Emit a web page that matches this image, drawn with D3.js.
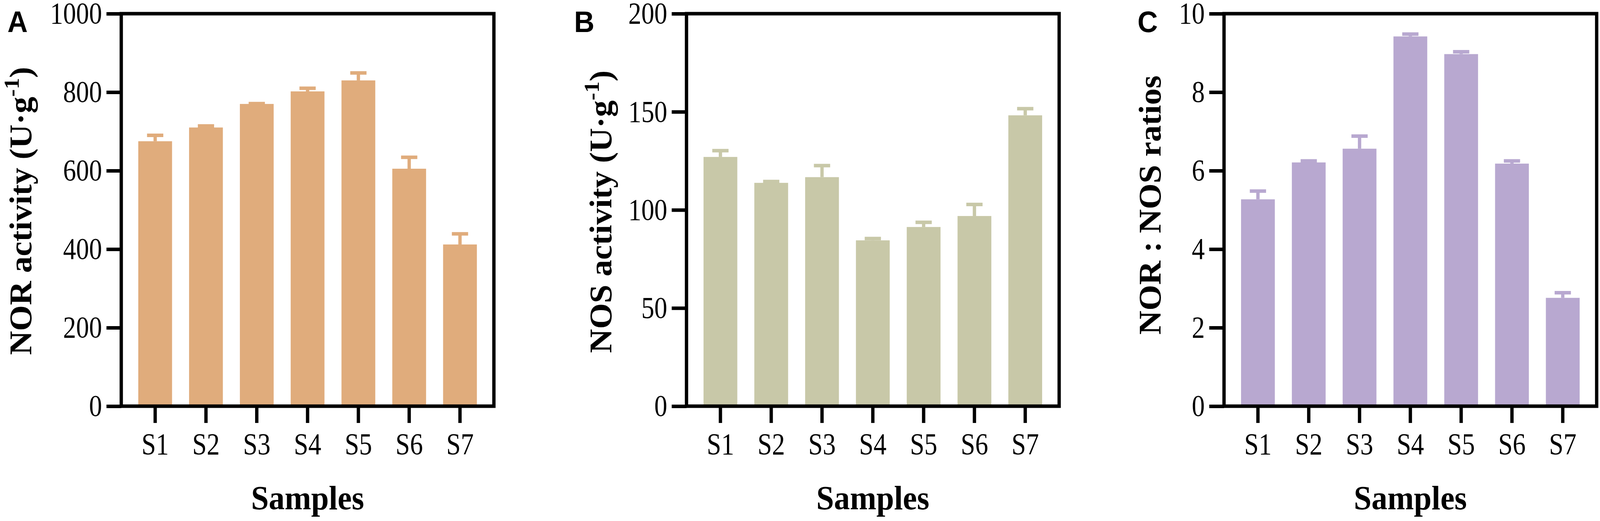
<!DOCTYPE html>
<html>
<head>
<meta charset="utf-8">
<script src="https://cdn.jsdelivr.net/npm/d3@7"></script>
<style>
  html, body { margin: 0; padding: 0; background: #fff; overflow: hidden; }
  svg { display: block; width: 100vw; height: 100vh; }
</style>
</head>
<body>
<script>

var samples = ["S1", "S2", "S3", "S4", "S5", "S6", "S7"];

// panel A : NOR activity
var norMean = [675, 710, 770, 802, 830, 605, 412];
var norErr  = [15, 4, 1, 8, 19, 29, 27];
var norTicks = [0, 200, 400, 600, 800, 1000];

// panel B : NOS activity
var nosMean = [127.0, 113.8, 116.7, 84.5, 91.3, 96.9, 148.2];
var nosErr  = [3.2, 0.7, 5.9, 0.9, 2.4, 5.9, 3.4];
var nosTicks = [0, 50, 100, 150, 200];

// panel C : NOR : NOS ratio
var ratioMean = [5.27, 6.21, 6.56, 9.42, 8.97, 6.18, 2.76];
var ratioErr  = [0.21, 0.04, 0.32, 0.06, 0.06, 0.07, 0.13];
var ratioTicks = [0, 2, 4, 6, 8, 10];

var serif = "'Liberation Serif', 'Times New Roman', serif";
var sans = "'Liberation Sans', Arial, sans-serif";
var squeeze = 0.9;

// drawn in a 4328x1334 frame, stretched to whatever the window gives
var canvas = d3.select("body")
    .append("svg")
    .attr("viewBox", "0 0 4328 1334")
    .attr("preserveAspectRatio", "none");

var panels = [
    { letter: "A", left: 328, letterX: 20, titleX: 85, titleY: 540,
      title: "NOR activity (U·g", sup: true,
      mean: norMean, err: norErr, ticks: norTicks, max: 1000, color: "#E0AC7C" },
    { letter: "B", left: 1857, letterX: 1553, titleX: 1654, titleY: 542,
      title: "NOS activity (U·g", sup: true,
      mean: nosMean, err: nosErr, ticks: nosTicks, max: 200, color: "#C8C8A8" },
    { letter: "C", left: 3311, letterX: 3077, titleX: 3139, titleY: 525,
      title: "NOR : NOS ratios", sup: false,
      mean: ratioMean, err: ratioErr, ticks: ratioTicks, max: 10, color: "#B8A8D0" }
];

var plotTop = 35, W = 1008, H = 1005;

panels.forEach(function (p) {
    var g = canvas.append("g")
        .attr("transform", "translate(" + p.left + "," + plotTop + ")");

    var x = d3.scaleBand().domain(samples).range([0, W]).padding(0.335);
    var y = d3.scaleLinear().domain([0, p.max]).range([H, 0]);

    var data = samples.map(function (s, i) {
        return { name: s, mean: p.mean[i], err: p.err[i] };
    });

    g.selectAll("rect.bar")
        .data(data)
        .enter()
        .append("rect")
        .attr("class", "bar")
        .attr("x", function (d) { return x(d.name); })
        .attr("width", x.bandwidth())
        .attr("y", function (d) { return y(d.mean); })
        .attr("height", function (d) { return H - y(d.mean); })
        .attr("fill", p.color);

    // error bars (upper only)
    var cx = function (d) { return x(d.name) + x.bandwidth() / 2; };
    g.selectAll("line.stem")
        .data(data)
        .enter()
        .append("line")
        .attr("x1", cx).attr("x2", cx)
        .attr("y1", function (d) { return y(d.mean); })
        .attr("y2", function (d) { return y(d.mean + d.err); })
        .attr("stroke", p.color)
        .attr("stroke-width", 9);
    g.selectAll("line.cap")
        .data(data)
        .enter()
        .append("line")
        .attr("x1", function (d) { return cx(d) - 22; })
        .attr("x2", function (d) { return cx(d) + 22; })
        .attr("y1", function (d) { return y(d.mean + d.err); })
        .attr("y2", function (d) { return y(d.mean + d.err); })
        .attr("stroke", p.color)
        .attr("stroke-width", 9);

    // axes
    var yAxis = g.append("g")
        .call(d3.axisLeft(y).tickValues(p.ticks).tickFormat(d3.format("d"))
            .tickSize(40).tickPadding(12));
    var xAxis = g.append("g")
        .attr("transform", "translate(0," + H + ")")
        .call(d3.axisBottom(x).tickSize(43).tickPadding(25));

    [yAxis, xAxis].forEach(function (ax) {
        ax.select(".domain").remove();
        ax.selectAll("line").attr("stroke", "#000").attr("stroke-width", 9);
        ax.selectAll("text")
            .attr("font-family", serif)
            .attr("font-size", 78)
            .attr("fill", "#000")
            .attr("transform", "scale(" + squeeze + ",1)");
    });
    yAxis.selectAll("text").attr("x", -52 / squeeze);

    // frame
    g.append("rect")
        .attr("x", 0).attr("y", 0)
        .attr("width", W).attr("height", H)
        .attr("fill", "none")
        .attr("stroke", "#000")
        .attr("stroke-width", 9);

    // x title
    canvas.append("text")
        .attr("x", p.left + W / 2).attr("y", 1304)
        .attr("text-anchor", "middle")
        .attr("font-family", serif)
        .attr("font-weight", "bold")
        .attr("font-size", 86)
        .text("Samples");

    // y title
    var t = canvas.append("text")
        .attr("transform", "translate(" + p.titleX + "," + p.titleY + ") rotate(-90)")
        .attr("text-anchor", "middle")
        .attr("font-family", serif)
        .attr("font-weight", "bold")
        .attr("font-size", 85)
        .text(p.title);
    if (p.sup) {
        t.append("tspan")
            .attr("dy", -34)
            .attr("font-size", 58)
            .text("-1");
        t.append("tspan")
            .attr("dy", 34)
            .text(")");
    }

    // panel letter
    canvas.append("text")
        .attr("x", p.letterX).attr("y", 82)
        .attr("font-family", sans)
        .attr("font-weight", "bold")
        .attr("font-size", 76)
        .text(p.letter);
});

</script>
</body>
</html>
